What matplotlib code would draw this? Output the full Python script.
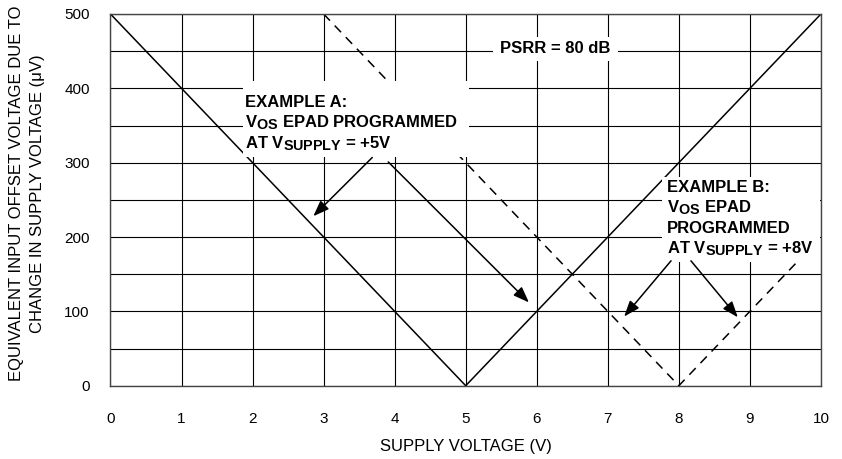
import numpy as np
import matplotlib
matplotlib.use("Agg")
import matplotlib.pyplot as plt
from matplotlib.patches import Rectangle
import matplotlib._mathtext as _mt

_mt.SHRINK_FACTOR = 0.86

plt.rcParams['font.family'] = ['Liberation Sans', 'DejaVu Sans']
plt.rcParams['mathtext.fontset'] = 'custom'
plt.rcParams['mathtext.rm'] = 'Liberation Sans:bold'
plt.rcParams['mathtext.bf'] = 'Liberation Sans:bold'
plt.rcParams['mathtext.it'] = 'Liberation Sans:bold'

# ---- data ----
x_ticks = [0, 1, 2, 3, 4, 5, 6, 7, 8, 9, 10]
y_ticks = [0, 100, 200, 300, 400, 500]
# Example A: programmed at 5 V
curve_a_x = [0, 5, 10]
curve_a_y = [500, 0, 500]
# Example B: programmed at 8 V
curve_b_x = [3, 8, 10]
curve_b_y = [500, 0, 200]

fig = plt.figure(figsize=(8.42, 4.59), dpi=100)
ax = fig.add_axes([0.1312, 0.1597, 0.8438, 0.8098])
ax.set_xlim(0, 10)
ax.set_ylim(0, 500)
ax.set_xticks(x_ticks)
ax.set_yticks(y_ticks)
ax.set_yticks(np.arange(0, 501, 50), minor=True)
ax.tick_params(axis='both', which='both', length=0, labelsize=11)
ax.tick_params(axis='x', pad=19)
ax.tick_params(axis='y', pad=15)
ax.grid(True, which='both', color='black', linewidth=0.8)
ax.set_axisbelow(True)
for s in ax.spines.values():
    s.set_color('#444444')
    s.set_linewidth(1.0)

ax.plot(curve_a_x, curve_a_y, color='black', lw=1.1, zorder=2)
ax.plot(curve_b_x, curve_b_y, color='black', lw=1.1, ls=(0, (6, 4.5)), zorder=2)

ax.set_xlabel('SUPPLY VOLTAGE (V)', fontsize=12)
ax.xaxis.label.set_va('center')
ax.xaxis.set_label_coords(0.5, -0.1636)
fig.text(0.032, 0.579,
         'EQUIVALENT INPUT OFFSET VOLTAGE DUE TO\nCHANGE IN SUPPLY VOLTAGE (\u03bcV)',
         rotation=90, ha='center', va='center', fontsize=12, linespacing=1.5)

# white backgrounds behind annotations
for (x0, x1, y0, y1) in [(1.86, 5.04, 307, 410), (5.39, 7.14, 437, 469), (7.76, 9.99, 167, 281)]:
    ax.add_patch(Rectangle((x0, y0), x1 - x0, y1 - y0, facecolor='white',
                           edgecolor='none', zorder=3))

tk = dict(fontsize=12, fontweight='bold', zorder=4, va='baseline', ha='left')
ax.text(6.26, 447, 'PSRR = 80 dB', **{**tk, 'ha': 'center'})

ax.text(1.90, 375, 'EXAMPLE A:', **tk)
ax.text(1.90, 347, r'V$_{\mathregular{OS}}$ EPAD PROGRAMMED', **tk)
ax.text(1.90, 319, r'AT V$_{\mathregular{SUPPLY}}$ = +5V', **tk)

ax.text(7.83, 261, 'EXAMPLE B:', **tk)
ax.text(7.83, 233, r'V$_{\mathregular{OS}}$ EPAD', **tk)
ax.text(7.83, 205, 'PROGRAMMED', **tk)
ax.text(7.83, 178, r'AT V$_{\mathregular{SUPPLY}}$ = +8V', **tk)

ap = dict(arrowstyle='-|>,head_length=0.8,head_width=0.3', mutation_scale=12,
          color='black', lw=1.1, shrinkA=0, shrinkB=0)
for (sx, sy, ex, ey) in [(3.685, 307, 2.855, 228), (3.91, 301, 5.89, 112),
                         (7.89, 168, 7.23, 93), (8.17, 168, 8.83, 92)]:
    ax.annotate('', xy=(ex, ey), xytext=(sx, sy), arrowprops=ap, zorder=5)

fig.savefig('out.png', dpi=100)
